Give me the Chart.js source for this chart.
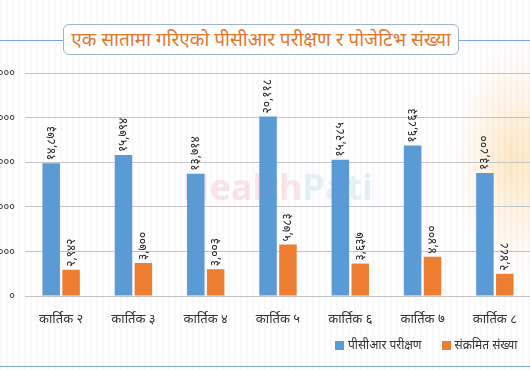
<!DOCTYPE html>
<html>
<head>
<meta charset="utf-8">
<script src="https://cdn.jsdelivr.net/npm/chart.js@4.4.1/dist/chart.umd.min.js"></script>
<style>
  html, body { margin:0; padding:0; width:530px; height:370px; overflow:hidden; background:#fff; font-family: "Noto Sans", "Lato", sans-serif; }
  #bg { position:absolute; left:0; top:0; width:530px; height:370px;
    background:
      radial-gradient(ellipse 60px 110px at 515px 160px, rgba(245,190,90,0.35), rgba(255,255,255,0) 100%),
      repeating-linear-gradient(90deg, rgba(230,215,240,0.18) 0px, rgba(230,215,240,0.18) 2px, rgba(255,255,255,0) 2px, rgba(255,255,255,0) 6px);
  }
  #wrap { position:absolute; left:-30px; top:0; width:561px; height:370px; }
  #title { position:absolute; left:63px; top:24px; width:394px; height:29px; border:1px solid #9fb4c8; border-radius:6px; background:#fff;
    color:#e2772e; font-size:19px; line-height:29px; text-align:center; white-space:nowrap; }
  .hl { position:absolute; height:1px; background:#7ea6d2; }
  #legend { position:absolute; top:336px; left:335px; font-size:12px; color:#333; white-space:nowrap; }
  #legend span.box { display:inline-block; width:9px; height:9px; vertical-align:-1px; margin-right:4px; }
  #legend span.item { margin-right:20px; }
  #wm { position:absolute; left:182px; top:162px; font-size:36px; font-weight:bold; opacity:0.12; }
</style>
</head>
<body>
<div id="bg"></div>
<div id="wm"><span style="color:#e0303a">Health</span><span style="color:#2a9aa8">Pati</span></div>
<div class="hl" style="left:0; top:40px; width:63px;"></div>
<div class="hl" style="left:459px; top:40px; width:71px;"></div>
<div class="hl" style="left:0; top:366px; width:530px;"></div>
<div id="title">एक सातामा गरिएको पीसीआर परीक्षण र पोजेटिभ संख्या</div>
<div id="wrap"><canvas id="c" width="561" height="370"></canvas></div>
<div id="legend"></div>
<script>
const categories = ["कार्तिक २", "कार्तिक ३", "कार्तिक ४", "कार्तिक ५", "कार्तिक ६", "कार्तिक ७", "कार्तिक ८"];
const seriesNames = ["पीसीआर परीक्षण", "संक्रमित संख्या"];
const pcrTests = [14873, 15794, 13714, 20118, 15285, 16863, 13800];
const positives = [2942, 3700, 3003, 5783, 3637, 4400, 2488];
const yTicks = [0, 5000, 10000, 15000, 20000, 25000];
const colors = ["#5b9bd5", "#ed7d31"];

const nepDigits = "०१२३४५६७८९";
function toNep(n, comma) {
  let s = comma ? n.toLocaleString("en-US") : String(n);
  return s.replace(/[0-9]/g, d => nepDigits[+d]);
}

const dataLabels = {
  id: "dataLabels",
  afterDatasetsDraw(chart) {
    const ctx = chart.ctx;
    chart.data.datasets.forEach((ds, i) => {
      const meta = chart.getDatasetMeta(i);
      meta.data.forEach((el, j) => {
        ctx.save();
        ctx.translate(el.x, el.y - 3);
        ctx.rotate(-Math.PI / 2);
        ctx.font = "12px 'Noto Sans', sans-serif";
        ctx.fillStyle = "#222";
        ctx.textAlign = "left";
        ctx.textBaseline = "middle";
        ctx.fillText(toNep(ds.data[j], true), 0, 0);
        ctx.restore();
      });
    });
  }
};

const chart = new Chart(document.getElementById("c"), {
  type: "bar",
  data: {
    labels: categories,
    datasets: [
      { label: seriesNames[0], data: pcrTests, backgroundColor: colors[0] },
      { label: seriesNames[1], data: positives, backgroundColor: colors[1] }
    ]
  },
  options: {
    responsive: false,
    animation: false,
    layout: { padding: { top: 73, right: 0, left: 0, bottom: 0 } },
    datasets: { bar: { categoryPercentage: 0.55, barPercentage: 0.88 } },
    plugins: { legend: { display: false }, tooltip: { enabled: false } },
    scales: {
      x: {
        grid: { display: false },
        border: { display: false },
        ticks: { color: "#333", font: { size: 13, family: "'Noto Sans', sans-serif" }, padding: 7, maxRotation: 0 },
        afterFit(s) { s.height = 74; }
      },
      y: {
        min: 0, max: 25000,
        afterBuildTicks(s) { s.ticks = yTicks.map(v => ({ value: v })); },
        grid: { color: "#c4c4c4", drawTicks: false },
        border: { display: false },
        ticks: { color: "#333", padding: 10, font: { size: 11, family: "'Noto Sans', sans-serif" }, callback: v => toNep(v, false) },
        afterFit(s) { s.width = 55; }
      }
    }
  },
  plugins: [dataLabels]
});

const lg = document.getElementById("legend");
seriesNames.forEach((n, i) => {
  const it = document.createElement("span");
  it.className = "item";
  const b = document.createElement("span");
  b.className = "box";
  b.style.background = colors[i];
  it.appendChild(b);
  it.appendChild(document.createTextNode(n));
  lg.appendChild(it);
});
</script>
</body>
</html>
